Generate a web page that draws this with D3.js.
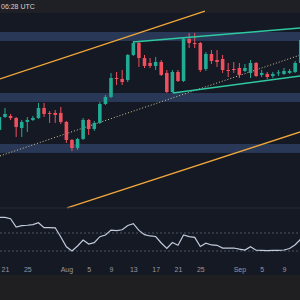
<!DOCTYPE html>
<html lang="en">
<head>
<meta charset="UTF-8">
<title>ETH daily with RSI</title>
<script src="https://d3js.org/d3.v7.min.js"></script>
<style>
  body { margin: 0; background: #151924; }
  svg { display: block; }
  text { font-family: "Liberation Sans", Arial, sans-serif; }
</style>
</head>
<body>
<svg width="300" height="300"></svg>
<script>
// daily candles, first one on 20 Jul
const firstDay = "2025-07-20";
const opens  = [3623,3793,3806,3780,3649,3728,3754,3780,3911,3846,3846,3846,3728,3491,3386,3505,3754,3636,3715,3964,4056,4305,4292,4279,4607,4764,4567,4502,4463,4515,4371,4121,4384,4266,4817,4764,4764,4423,4620,4541,4554,4410,4423,4436,4397,4371,4502,4345,4358,4331,4371,4358,4371,4384,4502];
const highs  = [3820,3911,3833,3793,3754,3793,3806,3977,3977,3872,3885,3924,3741,3505,3518,3780,3767,3741,3990,4082,4370,4384,4410,4620,4791,4778,4607,4567,4581,4541,4410,4410,4410,4843,4895,4895,4778,4646,4672,4672,4607,4502,4515,4502,4489,4541,4515,4410,4384,4384,4410,4436,4423,4528,4830];
const lows   = [3610,3780,3754,3531,3531,3597,3741,3767,3793,3715,3715,3701,3452,3347,3360,3491,3557,3610,3701,3950,4043,4213,4213,4252,4594,4449,4436,4436,4410,4331,4108,4108,4252,4252,4699,4699,4384,4397,4489,4449,4371,4318,4371,4305,4384,4305,4318,4318,4292,4305,4331,4345,4358,4371,4490];
const closes = [3793,3833,3780,3662,3728,3754,3780,3911,3833,3840,3820,3728,3491,3386,3505,3754,3636,3715,3964,4056,4305,4298,4252,4607,4764,4567,4463,4463,4515,4345,4121,4384,4266,4817,4764,4758,4410,4620,4528,4515,4410,4405,4410,4345,4436,4502,4331,4371,4318,4358,4378,4397,4397,4502,4804];
const rsi    = [77.4,77.4,75.9,66.7,68.1,68.6,69.3,71.4,66.0,65.9,65.8,55.6,44.7,40.0,45.6,52.1,47.8,49.3,55.9,57.8,63.3,62.7,63.6,68.4,70.3,62.9,58.1,56.7,56.1,48.9,42.8,49.4,46.4,57.8,56.0,55.2,45.0,48.6,46.7,46.3,43.3,43.1,43.3,42.0,41.1,44.7,40.8,40.6,40.4,40.6,40.8,41.1,42.8,46.9,53.3];
const rsiLevels = [60, 40];

// horizontal support / resistance zones
const zoneLow  = [4791, 3990, 3321];
const zoneHigh = [4909, 4108, 3439];

// drawn lines: [start date, start price, end date, end price]
const channelLines = [
  ["2025-07-20T02:30", 4292, "2025-08-25T20:00", 5184],
  ["2025-08-01T03:00", 2599, "2025-09-13T00:00", 3623]
];
const triangleLines = [
  ["2025-08-12T22:30", 4778, "2025-09-13T00:00", 4968],
  ["2025-08-20T02:30", 4108, "2025-09-13T00:00", 4342]
];
const midLine = ["2025-07-20T02:30", 3282, "2025-09-13T00:00", 4633];

const tickDates  = ["2025-07-21","2025-07-25","2025-08-01","2025-08-05","2025-08-09","2025-08-13","2025-08-17","2025-08-21","2025-08-25","2025-09-01","2025-09-05","2025-09-09"];
const tickLabels = ["21","25","Aug","5","9","13","17","21","25","Sep","5","9"];

const W = 300, H = 300;
const svg = d3.select("svg");

const day0 = new Date(firstDay);
const candles = opens.map((o, i) => ({
  date: d3.utcDay.offset(day0, i),
  open: o, high: highs[i], low: lows[i], close: closes[i], rsi: rsi[i]
}));

const x = d3.scaleUtc()
  .domain([new Date("2025-07-21"), new Date("2025-09-09")])
  .range([5, 284]);
const y = d3.scaleLinear().domain([3000, 5200]).range([177.4, 9.8]);
const yR = d3.scaleLinear().domain([0, 100]).range([287, 197]);

const barW = (x(new Date("2025-07-22")) - x(new Date("2025-07-21"))) * 0.64;

// backgrounds
svg.append("rect").attr("width", W).attr("height", H).attr("fill", "#151924");
svg.append("rect").attr("width", W).attr("height", 13).attr("fill", "#1f2025");
svg.append("rect").attr("y", 275).attr("width", W).attr("height", 25).attr("fill", "#1f1f21");

svg.append("defs").append("clipPath").attr("id", "pane")
  .append("rect").attr("x", 0).attr("y", 13).attr("width", W).attr("height", 195);

const pane = svg.append("g").attr("clip-path", "url(#pane)");

// zones
pane.selectAll(".zone").data(zoneLow).join("rect")
  .attr("class", "zone")
  .attr("x", 0).attr("width", W)
  .attr("y", (d, i) => y(zoneHigh[i]))
  .attr("height", (d, i) => y(d) - y(zoneHigh[i]))
  .attr("fill", "#283856");

// orange channel
svg.append("g").selectAll("line").data(channelLines).join("line")
  .attr("x1", d => x(new Date(d[0]))).attr("y1", d => y(d[1]))
  .attr("x2", d => x(new Date(d[2]))).attr("y2", d => y(d[3]))
  .attr("stroke", "#f2a73b").attr("stroke-width", 1.3);

// dotted mid line
pane.append("line")
  .attr("x1", x(new Date(midLine[0]))).attr("y1", y(midLine[1]))
  .attr("x2", x(new Date(midLine[2]))).attr("y2", y(midLine[3]))
  .attr("stroke", "#d8c79c").attr("stroke-width", 1)
  .attr("stroke-dasharray", "1,2");

// candles
const up = "#22ab94", down = "#f0505d";
const cg = pane.append("g");
cg.selectAll(".wick").data(candles).join("line")
  .attr("class", "wick")
  .attr("x1", d => x(d.date)).attr("x2", d => x(d.date))
  .attr("y1", d => y(d.high)).attr("y2", d => y(d.low))
  .attr("stroke", d => d.close >= d.open ? up : down).attr("stroke-width", 1);
cg.selectAll(".body").data(candles).join("rect")
  .attr("class", "body")
  .attr("x", d => x(d.date) - barW / 2).attr("width", barW)
  .attr("y", d => y(Math.max(d.open, d.close)))
  .attr("height", d => Math.max(1, Math.abs(y(d.open) - y(d.close))))
  .attr("fill", d => d.close >= d.open ? up : down);

// teal triangle
pane.selectAll(".tri").data(triangleLines).join("line")
  .attr("class", "tri")
  .attr("x1", d => x(new Date(d[0]))).attr("y1", d => y(d[1]))
  .attr("x2", d => x(new Date(d[2]))).attr("y2", d => y(d[3]))
  .attr("stroke", "#2fc9a0").attr("stroke-width", 1.5);

// rsi pane
svg.append("line").attr("x1", 0).attr("x2", W).attr("y1", 208).attr("y2", 208)
  .attr("stroke", "#262b37").attr("stroke-width", 1);
svg.selectAll(".lvl").data(rsiLevels).join("line")
  .attr("class", "lvl")
  .attr("x1", 0).attr("x2", W)
  .attr("y1", d => yR(d)).attr("y2", d => yR(d))
  .attr("stroke", "#4f5463").attr("stroke-dasharray", "2,2");
svg.append("path").datum(candles)
  .attr("fill", "none").attr("stroke", "#c2cbdc").attr("stroke-width", 1.2)
  .attr("d", d3.line().x(d => x(d.date)).y(d => yR(d.rsi)));

// time axis
const axis = svg.append("g").attr("transform", "translate(0,264)")
  .call(d3.axisBottom(x)
    .tickValues(tickDates.map(d => new Date(d)))
    .tickFormat((d, i) => tickLabels[i])
    .tickSize(0).tickPadding(3));
axis.select(".domain").remove();
axis.selectAll("text").attr("fill", "#9598a1").style("font-size", "7px");

// header clock
svg.append("text").attr("x", 1).attr("y", 8.5)
  .attr("fill", "#d1d4dc").style("font-size", "7px").text("06:28 UTC");
</script>
</body>
</html>
